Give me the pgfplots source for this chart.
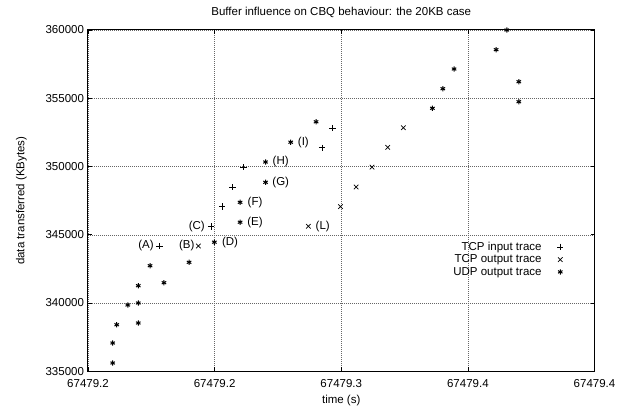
\documentclass[border=0pt]{standalone}
\usepackage{pgfplots}
\pgfplotsset{compat=1.18}
\usepackage{fontspec}
\setmainfont{Liberation Sans}
\begin{document}
\fontsize{11.5bp}{13bp}\selectfont
\begin{tikzpicture}
\useasboundingbox (-88bp,-36.7bp) rectangle (542bp,371.3bp);
\begin{axis}[
  at={(0,0)}, anchor=south west,
  scale only axis,
  width=506.5bp, height=341.3bp,
  xmin=0, xmax=4, ymin=335000, ymax=360000,
  xtick={0,1,2,3,4},
  xticklabels={67479.2,67479.2,67479.3,67479.4,67479.4},
  ytick={335000,340000,345000,350000,355000,360000},
  scaled ticks=false,
  yticklabel={\pgfmathprintnumber[fixed,precision=0,1000 sep={},assume math mode=true]{\tick}},
  tick align=inside,
  major tick length=4bp,
  tick style={black, line width=0.6bp},
  axis line style={line width=1bp},
  grid=major,
  major grid style={black!60, line width=0.5bp, dash pattern=on 0.7bp off 1.3bp},
  title={Buffer influence on CBQ behaviour: the 20KB case},
  title style={yshift=2bp},
  xlabel={time (s)},
  ylabel={data transferred (KBytes)},
  xticklabel style={yshift=-4bp},
  xlabel style={yshift=0bp},
  ylabel style={yshift=11bp},
  every tick label/.append style={font=\fontsize{11.5bp}{13bp}\selectfont},
  legend style={at={(0.945,0.39)}, anchor=north east, draw=none, fill=none,
    font=\fontsize{11.5bp}{12bp}\selectfont, legend cell align=right,
    row sep=-0.3bp, column sep=14bp, nodes={inner sep=1.5bp}},
  legend plot pos=right,
  clip=false,
]
\addplot[only marks, mark=+, mark size=3.2bp, mark options={line width=0.6bp}] coordinates {
(0.566,344178) (0.972,345606) (1.058,347057) (1.141,348485) (1.227,349943) (1.848,351378) (1.931,352807)
};
\addlegendentry{TCP input trace}
\addplot[only marks, mark=x, mark size=3.2bp, mark options={line width=0.7bp}] coordinates {
(0.871,344178) (1.740,345621) (1.994,347057) (2.117,348500) (2.243,349950) (2.367,351408) (2.491,352843)
};
\addlegendentry{TCP output trace}
\addplot[only marks, mark=asterisk, mark size=2.6bp, mark options={line width=1bp}] coordinates {
(0.195,335608) (0.195,337073) (0.227,338413) (0.314,339856) (0.397,340003) (0.397,338538)
(0.397,341270) (0.490,342735) (0.600,341490) (0.798,342984) (0.998,344456) (1.201,345921)
(1.201,347379) (1.402,348844) (1.402,350331) (1.601,351781) (1.801,353276) (2.720,354265)
(2.802,355700) (2.891,357143) (3.223,358557) (3.307,360000) (3.402,356213) (3.402,354748)
};
\addlegendentry{UDP output trace}
\node at (axis cs:0.458,344178) {(A)};
\node at (axis cs:0.780,344178) {(B)};
\node at (axis cs:0.859,345606) {(C)};
\node at (axis cs:1.122,344456) {(D)};
\node at (axis cs:1.319,345921) {(E)};
\node at (axis cs:1.319,347379) {(F)};
\node at (axis cs:1.522,348844) {(G)};
\node at (axis cs:1.522,350331) {(H)};
\node at (axis cs:1.701,351781) {(I)};
\node at (axis cs:1.854,345621) {(L)};
\end{axis}
\end{tikzpicture}
\end{document}
